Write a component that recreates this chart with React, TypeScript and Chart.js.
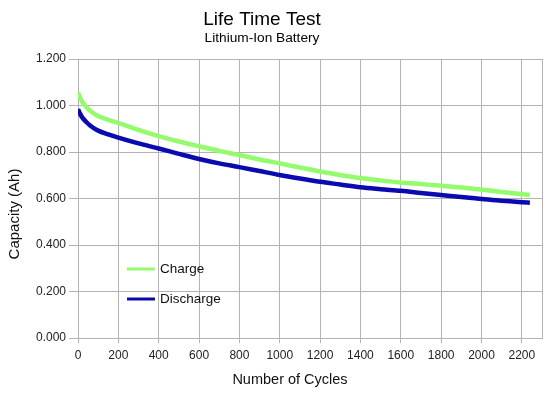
import React, { useEffect, useRef } from "react";
import { Chart, registerables } from "chart.js";

Chart.register(...registerables);

const cycles = [0, 10, 20, 40, 60, 80, 100, 150, 200, 300, 400, 500, 600, 700, 800, 900, 1000, 1100, 1200, 1300, 1400, 1500, 1600, 1700, 1800, 1900, 2000, 2100, 2200, 2240];
const chargeCapacity = [1.057, 1.035, 1.018, 0.995, 0.978, 0.965, 0.955, 0.938, 0.925, 0.895, 0.868, 0.845, 0.825, 0.805, 0.787, 0.768, 0.751, 0.733, 0.716, 0.701, 0.688, 0.678, 0.669, 0.662, 0.655, 0.647, 0.639, 0.628, 0.619, 0.615];
const dischargeCapacity = [0.984, 0.965, 0.95, 0.93, 0.914, 0.902, 0.892, 0.876, 0.862, 0.837, 0.815, 0.792, 0.77, 0.751, 0.735, 0.718, 0.701, 0.686, 0.672, 0.66, 0.648, 0.64, 0.633, 0.624, 0.615, 0.606, 0.598, 0.59, 0.584, 0.582];
const xTickValues = [0, 200, 400, 600, 800, 1000, 1200, 1400, 1600, 1800, 2000, 2200];
const xAxisMax = 2300;
const seriesLabels = ["Charge", "Discharge"];
const seriesColors = ["#93fb6c", "#0a0ab0"];
const chartTitle = "Life Time Test";
const chartSubtitle = "Lithium-Ion Battery";
const xAxisTitle = "Number of Cycles";
const yAxisTitle = "Capacity (Ah)";

const FONT = "'Liberation Sans', Arial, sans-serif";

const textPlugin = {
  id: "textPlugin",
  afterDraw(chart: any) {
    const { ctx, chartArea } = chart;
    ctx.save();
    ctx.textBaseline = "middle";
    ctx.textAlign = "center";
    ctx.fillStyle = "#000";
    ctx.font = `19px ${FONT}`;
    ctx.fillText(chartTitle, 262, 20);
    ctx.font = `13.7px ${FONT}`;
    ctx.fillText(chartSubtitle, 262, 38);
    ctx.fillStyle = "#111";
    ctx.font = `14.5px ${FONT}`;
    ctx.fillText(xAxisTitle, 290, 380);
    ctx.save();
    ctx.translate(15, 214);
    ctx.rotate(-Math.PI / 2);
    ctx.font = `15px ${FONT}`;
    ctx.fillText(yAxisTitle, 0, 0);
    ctx.restore();

    ctx.textAlign = "left";
    ctx.font = `13.5px ${FONT}`;
    chart.data.datasets.forEach((ds: any, i: number) => {
      const y = chartArea.top + 210 + i * 30;
      const x0 = chartArea.left + 49;
      ctx.strokeStyle = ds.borderColor;
      ctx.lineWidth = 3;
      ctx.beginPath();
      ctx.moveTo(x0, y);
      ctx.lineTo(x0 + 28, y);
      ctx.stroke();
      ctx.fillStyle = "#111";
      ctx.fillText(ds.label, x0 + 33, y);
    });
    ctx.restore();
  },
};

export default function App() {
  const ref = useRef<HTMLCanvasElement>(null);
  useEffect(() => {
    document.body.style.margin = "0";
    const ch = new Chart(ref.current!, {
      type: "line",
      data: {
        datasets: [
          {
            label: seriesLabels[0],
            data: cycles.map((c, i) => ({ x: c, y: chargeCapacity[i] })),
            borderColor: seriesColors[0],
            backgroundColor: seriesColors[0],
            borderWidth: 4.5,
            pointRadius: 0,
            cubicInterpolationMode: "monotone",
          },
          {
            label: seriesLabels[1],
            data: cycles.map((c, i) => ({ x: c, y: dischargeCapacity[i] })),
            borderColor: seriesColors[1],
            backgroundColor: seriesColors[1],
            borderWidth: 4.5,
            pointRadius: 0,
            cubicInterpolationMode: "monotone",
          },
        ],
      },
      options: {
        animation: false,
        responsive: false,
        layout: { padding: { left: 0, right: 12, top: 59, bottom: 0 } },
        plugins: {
          legend: { display: false },
          tooltip: { enabled: false },
          title: { display: false },
        },
        scales: {
          x: {
            type: "linear",
            min: 0,
            max: xAxisMax,
            afterBuildTicks: (s: any) => {
              s.ticks = [...xTickValues, xAxisMax].map((v) => ({ value: v }));
            },
            ticks: {
              autoSkip: false,
              color: "#222",
              font: { family: FONT, size: 12 },
              padding: 5,
              maxRotation: 0,
              callback: (v: any) => (xTickValues.includes(Number(v)) ? String(v) : ""),
            },
            grid: {
              color: "#b3b3b3",
              tickLength: 5,
              tickColor: (c: any) => (c.tick && !xTickValues.includes(c.tick.value) ? "rgba(0,0,0,0)" : "#b3b3b3"),
            },
            border: { color: "#b3b3b3" },
            afterFit: (s: any) => {
              s.height = 55;
            },
          },
          y: {
            min: 0,
            max: 1.2,
            ticks: {
              stepSize: 0.2,
              color: "#222",
              font: { family: FONT, size: 12 },
              padding: 3,
              callback: (v: any) => Number(v).toFixed(3),
            },
            grid: { color: "#b3b3b3", tickLength: 9 },
            border: { color: "#b3b3b3" },
            afterFit: (s: any) => {
              s.width = 78;
            },
          },
        },
      },
      plugins: [textPlugin],
    });
    return () => ch.destroy();
  }, []);
  return (
    <div style={{ position: "absolute", left: 0, top: 0, width: 554, height: 393 }}>
      <canvas ref={ref} width={554} height={393} style={{ width: 554, height: 393 }} />
    </div>
  );
}
